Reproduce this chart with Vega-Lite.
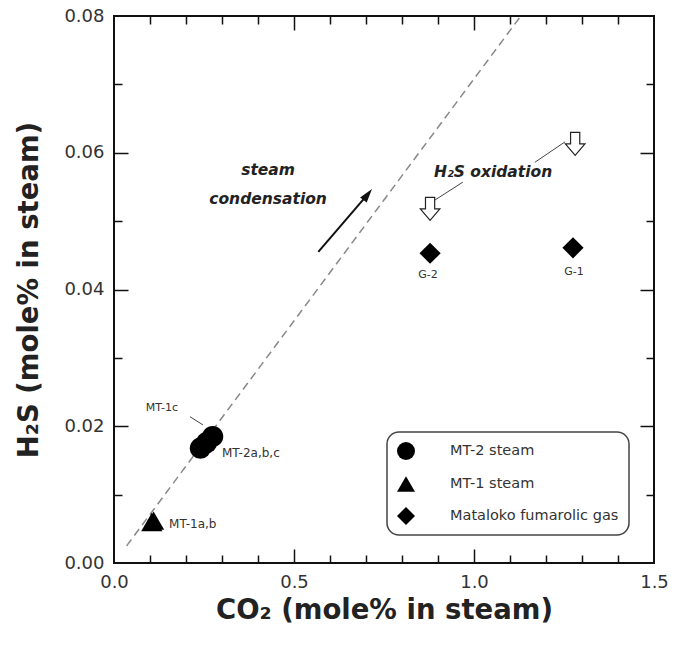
{
  "$schema": "https://vega.github.io/schema/vega-lite/v6.json",
  "width": 540,
  "height": 547,
  "autosize": {"type": "none"},
  "padding": {"left": 114, "top": 16, "right": 21, "bottom": 96},
  "background": "white",
  "config": {
    "view": {"stroke": "#111", "strokeWidth": 2},
    "font": "DejaVu Sans",
    "axis": {"grid": false, "domain": false, "labelFlush": false, "labelOverlap": false},
    "legend": {
      "orient": "none",
      "legendX": 273,
      "legendY": 416,
      "padding": 10,
      "strokeColor": "#444",
      "strokeWidth": 1.5,
      "cornerRadius": 12,
      "fillColor": "white",
      "symbolSize": 324,
      "symbolFillColor": "black",
      "symbolStrokeColor": "black",
      "symbolStrokeWidth": 0,
      "labelFont": "DejaVu Sans",
      "labelFontSize": 14.5,
      "labelColor": "#333",
      "labelOffset": 35,
      "rowPadding": 15,
      "labelLimit": 300
    }
  },
  "resolve": {"axis": {"x": "independent", "y": "independent"}},
  "datasets": {
    "pts": [
      {"series": "MT-2 steam", "co2": 0.24, "h2s": 0.0168},
      {"series": "MT-2 steam", "co2": 0.257, "h2s": 0.0176},
      {"series": "MT-2 steam", "co2": 0.274, "h2s": 0.0185},
      {"series": "MT-1 steam", "co2": 0.105, "h2s": 0.006},
      {"series": "MT-1 steam", "co2": 0.11, "h2s": 0.0062},
      {"series": "Mataloko fumarolic gas", "co2": 0.878, "h2s": 0.0453},
      {"series": "Mataloko fumarolic gas", "co2": 1.275, "h2s": 0.0461}
    ]
  },
  "layer": [
    {
      "data": {"values": [{"co2": 0.035, "h2s": 0.0025}, {"co2": 1.13, "h2s": 0.08}]},
      "mark": {"type": "line", "color": "#888", "strokeWidth": 1.5, "strokeDash": [8, 5]},
      "encoding": {
        "x": {"field": "co2", "type": "quantitative", "scale": {"domain": [0, 1.5], "nice": false},
          "axis": {"orient": "bottom", "values": [0.5, 1.0], "labels": false, "title": null, "tickSize": -14, "tickColor": "#111", "tickWidth": 1.5}},
        "y": {"field": "h2s", "type": "quantitative", "scale": {"domain": [0, 0.08], "nice": false},
          "axis": {"orient": "left", "values": [0.02, 0.04, 0.06], "labels": false, "title": null, "tickSize": -14, "tickColor": "#111", "tickWidth": 1.5}}
      }
    },
    {
      "data": {"values": [{"co2": 0.5675, "h2s": 0.0455, "co2b": 0.7047, "h2sb": 0.0539}]},
      "mark": {"type": "rule", "color": "#111", "strokeWidth": 2},
      "encoding": {
        "x": {"field": "co2", "type": "quantitative",
          "axis": {"orient": "bottom", "values": [0.1, 0.2, 0.3, 0.4, 0.6, 0.7, 0.8, 0.9, 1.1, 1.2, 1.3, 1.4], "labels": false, "title": null, "tickSize": -8, "tickColor": "#111", "tickWidth": 1.5}},
        "y": {"field": "h2s", "type": "quantitative",
          "axis": {"orient": "left", "values": [0.01, 0.03, 0.05, 0.07], "labels": false, "title": null, "tickSize": -8, "tickColor": "#111", "tickWidth": 1.5}},
        "x2": {"field": "co2b"},
        "y2": {"field": "h2sb"}
      }
    },
    {
      "data": {"values": [{"co2": 0.7047, "h2s": 0.0539}]},
      "mark": {"type": "point", "shape": "M0,-1L0.6,1L-0.6,1Z", "size": 196, "angle": 38, "filled": true, "color": "#111", "opacity": 1},
      "encoding": {
        "x": {"field": "co2", "type": "quantitative",
          "axis": {"orient": "top", "values": [0.5, 1.0], "labels": false, "title": null, "tickSize": -14, "tickColor": "#111", "tickWidth": 1.5}},
        "y": {"field": "h2s", "type": "quantitative",
          "axis": {"orient": "right", "values": [0.02, 0.04, 0.06], "labels": false, "title": null, "tickSize": -14, "tickColor": "#111", "tickWidth": 1.5}}
      }
    },
    {
      "data": {"values": [
        {"co2": 0.211, "h2s": 0.0214, "co2b": 0.247, "h2sb": 0.0202},
        {"co2": 0.969, "h2s": 0.0557, "co2b": 0.892, "h2sb": 0.0531},
        {"co2": 1.169, "h2s": 0.0586, "co2b": 1.253, "h2sb": 0.0616}
      ]},
      "mark": {"type": "rule", "color": "#444", "strokeWidth": 1},
      "encoding": {
        "x": {"field": "co2", "type": "quantitative",
          "axis": {"orient": "top", "values": [0.1, 0.2, 0.3, 0.4, 0.6, 0.7, 0.8, 0.9, 1.1, 1.2, 1.3, 1.4], "labels": false, "title": null, "tickSize": -8, "tickColor": "#111", "tickWidth": 1.5}},
        "y": {"field": "h2s", "type": "quantitative",
          "axis": {"orient": "right", "values": [0.01, 0.03, 0.05, 0.07], "labels": false, "title": null, "tickSize": -8, "tickColor": "#111", "tickWidth": 1.5}},
        "x2": {"field": "co2b"},
        "y2": {"field": "h2sb"}
      }
    },
    {
      "data": {"values": [{"co2": 0.878, "h2s": 0.0518}, {"co2": 1.281, "h2s": 0.0613}]},
      "mark": {"type": "point", "shape": "M-0.4,-1L0.4,-1L0.4,0L0.85,0L0,1L-0.85,0L-0.4,0Z", "size": 529, "filled": false, "fill": "white", "fillOpacity": 1, "stroke": "#222", "strokeWidth": 1.2, "opacity": 1},
      "encoding": {
        "x": {"field": "co2", "type": "quantitative", "axis": null},
        "y": {"field": "h2s", "type": "quantitative", "axis": null}
      }
    },
    {
      "data": {"name": "pts"},
      "mark": {"type": "point", "filled": true, "color": "black", "size": 450, "opacity": 1, "strokeWidth": 0},
      "encoding": {
        "x": {"field": "co2", "type": "quantitative",
          "axis": {"orient": "bottom", "values": [0, 0.5, 1.0, 1.5], "format": ".1f", "ticks": false, "labelFontSize": 18, "labelColor": "#333", "labelFont": "DejaVu Sans", "labelPadding": 10,
            "title": "CO₂ (mole% in steam)", "titleFont": "DejaVu Sans", "titleFontSize": 27.5, "titleFontWeight": "bold", "titleColor": "#222", "titlePadding": 5}},
        "y": {"field": "h2s", "type": "quantitative",
          "axis": {"orient": "left", "values": [0, 0.02, 0.04, 0.06, 0.08], "format": ".2f", "ticks": false, "labelFontSize": 18, "labelColor": "#333", "labelFont": "DejaVu Sans", "labelPadding": 10,
            "title": "H₂S (mole% in steam)", "titleFont": "DejaVu Sans", "titleFontSize": 27.5, "titleFontWeight": "bold", "titleColor": "#222", "titlePadding": 20}},
        "shape": {"field": "series", "type": "nominal",
          "scale": {"domain": ["MT-2 steam", "MT-1 steam", "Mataloko fumarolic gas"], "range": ["circle", "triangle-up", "diamond"]},
          "legend": {"title": null}}
      }
    },
    {
      "data": {"values": [
        {"label": "steam", "co2": 0.428, "h2s": 0.0575},
        {"label": "condensation", "co2": 0.428, "h2s": 0.0532},
        {"label": "H₂S oxidation", "co2": 1.053, "h2s": 0.0572}
      ]},
      "mark": {"type": "text", "font": "DejaVu Sans", "fontSize": 15.5, "fontWeight": "bold", "fontStyle": "italic", "color": "#222", "align": "center", "baseline": "middle"},
      "encoding": {
        "x": {"field": "co2", "type": "quantitative", "axis": null},
        "y": {"field": "h2s", "type": "quantitative", "axis": null},
        "text": {"field": "label"}
      }
    },
    {
      "data": {"values": [
        {"label": "MT-1c", "co2": 0.133, "h2s": 0.0227},
        {"label": "G-2", "co2": 0.872, "h2s": 0.0421},
        {"label": "G-1", "co2": 1.278, "h2s": 0.0426}
      ]},
      "mark": {"type": "text", "font": "DejaVu Sans", "fontSize": 11, "color": "#333", "align": "center", "baseline": "middle"},
      "encoding": {
        "x": {"field": "co2", "type": "quantitative", "axis": null},
        "y": {"field": "h2s", "type": "quantitative", "axis": null},
        "text": {"field": "label"}
      }
    },
    {
      "data": {"values": [
        {"label": "MT-2a,b,c", "co2": 0.3, "h2s": 0.0161},
        {"label": "MT-1a,b", "co2": 0.153, "h2s": 0.0057}
      ]},
      "mark": {"type": "text", "font": "DejaVu Sans", "fontSize": 12, "color": "#333", "align": "left", "baseline": "middle"},
      "encoding": {
        "x": {"field": "co2", "type": "quantitative", "axis": null},
        "y": {"field": "h2s", "type": "quantitative", "axis": null},
        "text": {"field": "label"}
      }
    }
  ]
}
